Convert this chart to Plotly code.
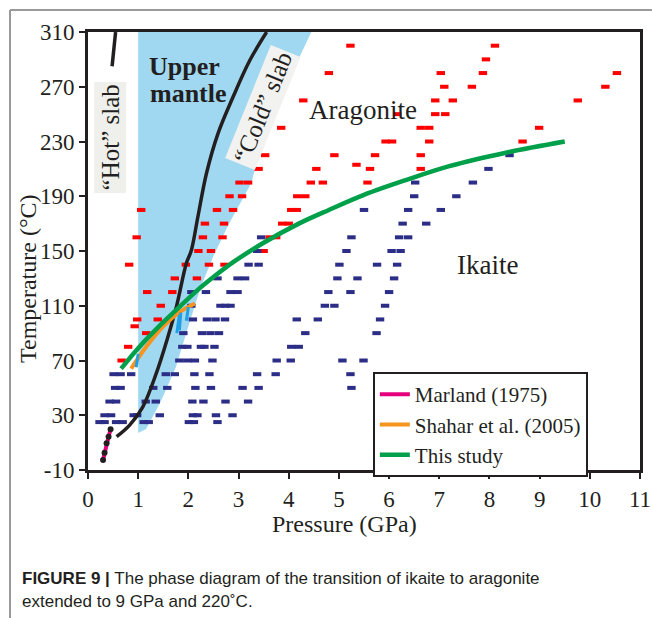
import plotly.graph_objects as go

# ---------------- data ----------------
# Aragonite observations (red dashes): pressure (GPa), temperature (°C)
arag_P = [0.67, 0.80, 1.16, 0.93, 0.98, 1.39, 1.45, 1.18, 1.68, 1.73, 2.17,
          0.82, 1.95, 2.41, 2.72, 2.20, 2.45, 3.50,
          0.97, 2.29, 2.68, 3.62, 3.75, 2.33, 2.71, 3.87, 4.00,
          1.06, 2.57, 2.89, 4.05, 4.16, 2.82, 3.07, 4.17, 4.33,
          3.02, 3.19, 4.44, 4.68, 5.57, 3.40, 4.55, 5.62, 6.63, 5.35,
          3.53, 4.91, 5.72, 6.63, 5.93, 6.06, 6.80, 8.66,
          3.85, 6.63, 6.80, 8.99, 6.16, 6.92, 7.12,
          4.29, 6.92, 7.27, 9.76, 7.10, 7.65, 10.31,
          4.80, 7.03, 7.87, 10.54, 7.93, 5.23, 8.11]
arag_T = [70, 80, 90, 95, 100, 100, 110, 120, 120, 130, 130,
          140, 140, 140, 140, 150, 150, 150,
          160, 160, 160, 160, 160, 170, 170, 170, 170,
          180, 180, 180, 180, 180, 190, 190, 190, 190,
          200, 200, 200, 200, 200, 210, 210, 210, 210, 213,
          220, 220, 220, 220, 230, 230, 230, 230,
          240, 240, 240, 240, 250, 250, 250,
          260, 260, 260, 260, 270, 270, 270,
          280, 280, 280, 280, 290, 300, 300]

# Ikaite observations (navy dashes)
ika_P = [0.23, 0.33, 0.56, 0.69, 1.11, 1.21, 2.01, 2.11, 2.58,
         0.33, 0.46, 0.91, 0.98, 1.43, 2.09, 2.18, 2.55, 2.88,
         0.43, 0.56, 1.15, 1.35, 2.08, 2.30, 2.74, 3.19,
         0.54, 0.65, 1.30, 1.58, 2.14, 2.45, 3.08, 3.40, 5.25,
         0.51, 0.65, 0.86, 1.55, 1.73, 2.12, 2.42, 3.37, 3.74, 5.23,
         1.82, 1.98, 2.13, 2.48, 3.76, 4.04, 5.07, 5.49,
         1.88, 1.98, 2.25, 2.32, 2.52, 4.05, 4.20,
         1.90, 2.27, 2.44, 2.61, 4.33, 5.75,
         2.09, 2.37, 2.54, 2.73, 4.16, 4.58, 5.82,
         2.06, 2.64, 2.74, 2.84, 4.72, 4.91, 5.92,
         2.06, 2.35, 2.84, 2.98, 4.79, 5.23, 6.00,
         2.58, 2.98, 3.13, 4.97, 5.37, 6.10,
         3.20, 3.40, 5.01, 5.76, 6.16,
         3.37, 5.15, 6.05, 6.23,
         3.45, 5.25, 6.20, 6.38,
         6.27, 6.74, 5.50, 6.38, 7.03, 6.50, 7.34, 6.52, 7.67, 7.98, 8.40]
ika_T = [25] * 9 + [30] * 9 + [40] * 8 + [50] * 9 + [60] * 10 + [70] * 8 + \
        [80] * 7 + [90] * 6 + [100] * 7 + [110] * 7 + [120] * 7 + [130] * 6 + \
        [140] * 5 + [150] * 4 + [160] * 4 + \
        [170, 170, 180, 180, 180, 190, 190, 200, 200, 210, 220]

# This study boundary (green)
study_P = [0.66, 1.00, 1.50, 1.76, 2.20, 2.50, 2.90, 3.50, 4.20, 4.80, 5.50, 6.35, 7.20, 8.35, 9.50]
study_T = [64, 79, 98, 107, 122, 131, 142, 156, 170, 180, 191, 202, 212, 222, 230]

# Shahar et al. (2005) boundary (orange)
shahar_P = [0.86, 1.16, 1.49, 1.83, 2.13]
shahar_T = [64, 80, 94.6, 105.5, 111.7]

# Shahar et al. brackets (blue short segments)
bracket_P = [0.96, 1.00, None, 1.77, 1.82, None, 1.82, 1.85, None, 1.96, 2.00]
bracket_T = [65, 75, None, 90, 103, None, 92, 105, None, 99, 109]

# Marland (1975) boundary (magenta) with data points
marland_P = [0.30, 0.33, 0.37, 0.41, 0.45]
marland_T = [-2.7, 2.6, 9.5, 14.3, 19.7]

# Slab geotherms (black)
cold_P = [0.57, 0.83, 1.09, 1.36, 1.59, 1.76, 1.96, 2.06, 2.19, 2.36, 2.59, 2.89, 3.22, 3.56]
cold_T = [14.3, 22.8, 36, 60.6, 87, 109, 141, 150.6, 175, 206.6, 235.8, 262.5, 289, 310]
hot_P = [0.55, 0.48]
hot_T = [310, 285]

# Upper-mantle field (light blue)
mantle_P = [1.00, 1.00, 4.45, 3.50, 3.26, 2.81, 2.52, 2.25, 2.00, 1.75, 1.45, 1.16, 1.00]
mantle_T = [17, 310, 310, 236, 200, 170, 148, 124, 95, 65, 40, 20, 17]

x_ticks = list(range(0, 12))
y_ticks = list(range(-10, 311, 40))
y_ticktext = [str(v) for v in y_ticks]   # plain hyphen for "-10"

# ---------------- styles ----------------
INK = "#231f20"
SERIF = "Liberation Serif, Times New Roman, serif"
SANS = "Liberation Sans, Arial, sans-serif"

fig = go.Figure()

fig.add_trace(go.Scatter(x=mantle_P, y=mantle_T, mode="lines", fill="toself",
                         fillcolor="rgb(160,216,242)", line=dict(width=0),
                         hoverinfo="skip", showlegend=False))

dash = dict(symbol="line-ew", size=6)
fig.add_trace(go.Scatter(x=arag_P, y=arag_T, mode="markers", showlegend=False,
                         marker=dict(**dash, color="#ff0000",
                                     line=dict(width=4, color="#ff0000"))))
fig.add_trace(go.Scatter(x=ika_P, y=ika_T, mode="markers", showlegend=False,
                         marker=dict(**dash, color="#2b2d86",
                                     line=dict(width=4, color="#2b2d86"))))

fig.add_trace(go.Scatter(x=cold_P, y=cold_T, mode="lines", line_shape="spline",
                         line=dict(color=INK, width=3.5), showlegend=False))
fig.add_trace(go.Scatter(x=hot_P, y=hot_T, mode="lines",
                         line=dict(color=INK, width=3.5), showlegend=False))

fig.add_trace(go.Scatter(x=marland_P, y=marland_T, mode="lines", name="Marland (1975)",
                         line=dict(color="#e5007e", width=4)))
fig.add_trace(go.Scatter(x=marland_P, y=marland_T, mode="markers", showlegend=False,
                         marker=dict(color=INK, size=6)))
fig.add_trace(go.Scatter(x=shahar_P, y=shahar_T, mode="lines", name="Shahar et al. (2005)",
                         line_shape="spline", line=dict(color="#f7941d", width=4)))
fig.add_trace(go.Scatter(x=bracket_P, y=bracket_T, mode="lines", showlegend=False,
                         line=dict(color="#1ea0e6", width=3)))
fig.add_trace(go.Scatter(x=study_P, y=study_T, mode="lines", name="This study",
                         line_shape="spline", line=dict(color="#00a04a", width=4.5)))

axis_common = dict(showline=True, linewidth=3, linecolor=INK, mirror=True,
                   ticks="outside", ticklen=6, tickwidth=2, tickcolor=INK,
                   showgrid=False, zeroline=False, automargin=False,
                   tickfont=dict(family=SERIF, size=23, color=INK))

fig.update_layout(
    width=652, height=618,
    margin=dict(l=88, r=12, t=32, b=148),
    paper_bgcolor="white", plot_bgcolor="white",
    xaxis=dict(range=[0, 11], tickvals=x_ticks, **axis_common),
    yaxis=dict(range=[-10, 310], tickvals=y_ticks, ticktext=y_ticktext, **axis_common),
    legend=dict(x=0.516, y=0.2237, xanchor="left", yanchor="top",
                bgcolor="white", bordercolor=INK, borderwidth=2,
                font=dict(family=SERIF, size=21, color=INK),
                tracegroupgap=0, itemwidth=30),
)

annots = [
    dict(text="<b>Upper</b>", x=1.913, y=285, font=dict(size=26)),
    dict(text="<b>mantle</b>", x=1.993, y=265, font=dict(size=26)),
    dict(text="Aragonite", x=5.48, y=253, font=dict(size=27)),
    dict(text="Ikaite", x=7.96, y=140, font=dict(size=27)),
    dict(text="“Hot” slab", x=0.44, y=233, textangle=-90, font=dict(size=25),
         bgcolor="#efefeb", borderpad=2),
    dict(text="“Cold” slab", x=3.49, y=254.5, textangle=-68, font=dict(size=25),
         bgcolor="#f2f2f0", borderpad=2),
]
for a in annots:
    a["font"] = dict(family=SERIF, color=INK, **a["font"])
    fig.add_annotation(xref="x", yref="y", showarrow=False,
                       xanchor="center", yanchor="middle", **a)

# axis titles
fig.add_annotation(xref="paper", yref="paper", x=0.4638, y=-0.1233, showarrow=False,
                   xanchor="center", yanchor="middle",
                   text="Pressure (GPa)", font=dict(family=SERIF, size=24, color=INK))
fig.add_annotation(xref="paper", yref="paper", x=-0.1087, y=0.4384, showarrow=False,
                   xanchor="center", yanchor="middle",
                   text="Temperature (°C)", textangle=-90,
                   font=dict(family=SERIF, size=24, color=INK))

# caption
fig.add_annotation(xref="paper", yref="paper", x=-0.1232, y=-0.2466,
                   xanchor="left", yanchor="middle", showarrow=False,
                   text="<b>FIGURE 9 |</b> The phase diagram of the transition of ikaite to aragonite",
                   font=dict(family=SANS, size=17, color=INK))
fig.add_annotation(xref="paper", yref="paper", x=-0.1232, y=-0.2991,
                   xanchor="left", yanchor="middle", showarrow=False,
                   text="extended to 9 GPa and 220˚C.",
                   font=dict(family=SANS, size=17, color=INK))

# figure frame (grey lines at top and left)
fig.add_shape(type="line", xref="paper", yref="paper", x0=-0.1413, x1=1.06,
              y0=1.0502, y1=1.0502, line=dict(color="#9a9a9a", width=2))
fig.add_shape(type="line", xref="paper", yref="paper", x0=-0.1413, x1=-0.1413,
              y0=1.0502, y1=-0.34, line=dict(color="#9a9a9a", width=2))

fig.write_html("out.html")
